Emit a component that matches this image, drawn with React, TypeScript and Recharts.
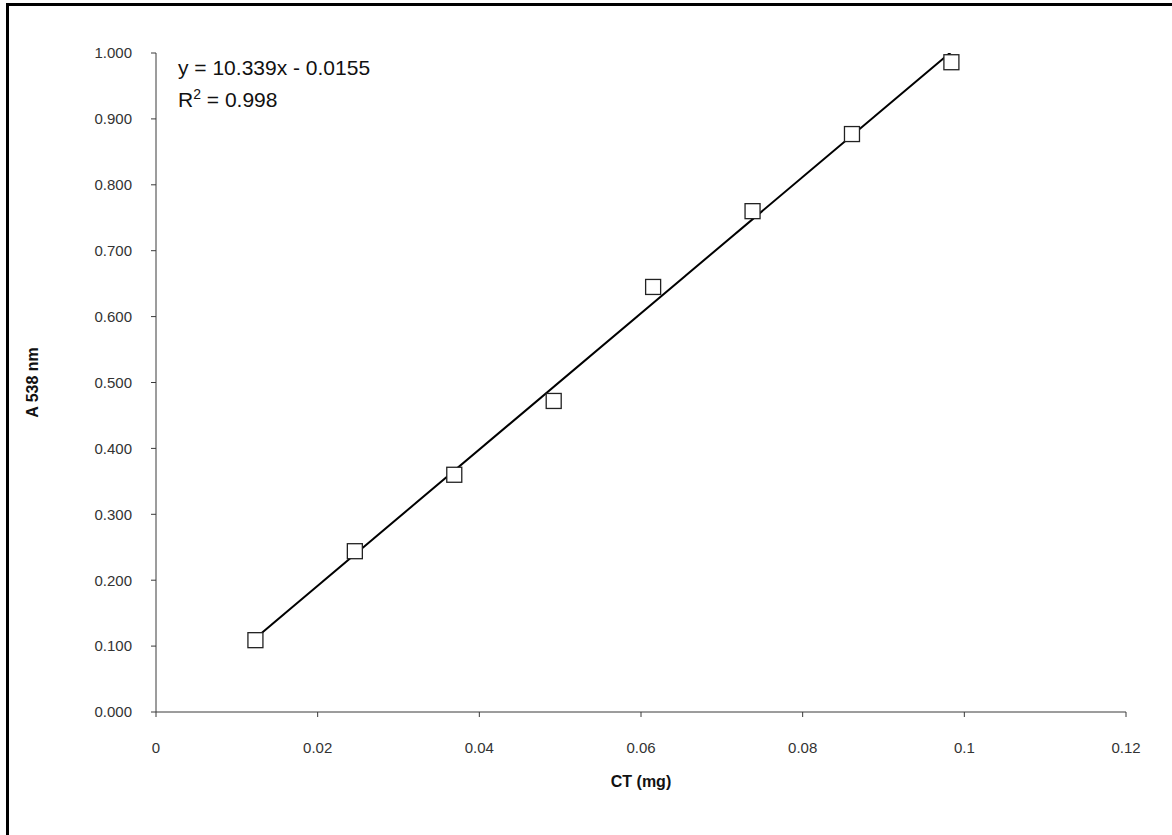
import {
  ComposedChart,
  Scatter,
  Line,
  XAxis,
  YAxis,
  Label,
} from "recharts";

// CT amount (mg) and absorbance at 538 nm
const ctMg = [0.0123, 0.0246, 0.0369, 0.0492, 0.0615, 0.0738, 0.0861, 0.0984];
const absorbance = [0.109, 0.244, 0.36, 0.472, 0.645, 0.76, 0.877, 0.986];

// linear fit end points: y = 10.339x - 0.0155
const fitX = [0.0123, 0.0984];
const fitY = [0.112, 1.002];

const xTicks = [0, 0.02, 0.04, 0.06, 0.08, 0.1, 0.12];
const yTicks = [0, 0.1, 0.2, 0.3, 0.4, 0.5, 0.6, 0.7, 0.8, 0.9, 1.0];

const points = ctMg.map((x, i) => ({ x, y: absorbance[i] }));
const fitLine = fitX.map((x, i) => ({ x, fit: fitY[i] }));

const font = "'Liberation Sans', Arial, sans-serif";
const axisColor = "#3a3a3a";

function SquareMarker(props: any) {
  const { cx, cy } = props;
  const s = 15;
  return (
    <rect
      x={cx - s / 2}
      y={cy - s / 2}
      width={s}
      height={s}
      fill="#fff"
      stroke="#222"
      strokeWidth={1.3}
    />
  );
}

export default function App() {
  return (
    <div
      style={{
        position: "fixed",
        left: 0,
        top: 0,
        width: 1172,
        height: 835,
        background: "#fff",
        fontFamily: font,
        overflow: "hidden",
      }}
    >
      <div
        style={{
          position: "absolute",
          left: 6,
          top: 3,
          width: 1200,
          height: 900,
          borderLeft: "3px solid #000",
          borderTop: "3px solid #000",
        }}
      />
      <ComposedChart
        width={1172}
        height={835}
        margin={{ top: 53, right: 46, bottom: 83, left: 96 }}
        style={{ position: "absolute", left: 0, top: 0 }}
      >
        <XAxis
          type="number"
          dataKey="x"
          domain={[0, 0.12]}
          ticks={xTicks}
          tickFormatter={(v) => String(v)}
          height={40}
          tickSize={5}
          tickMargin={25}
          stroke={axisColor}
          tick={{ fill: "#333", fontSize: 15, fontFamily: font }}
          allowDataOverflow
        >
          <Label
            value="CT (mg)"
            position="bottom"
            offset={24}
            style={{ fontWeight: "bold", fontSize: 16, fill: "#111", fontFamily: font }}
          />
        </XAxis>
        <YAxis
          type="number"
          domain={[0, 1]}
          ticks={yTicks}
          tickFormatter={(v) => v.toFixed(3)}
          width={60}
          tickSize={5}
          tickMargin={19}
          stroke={axisColor}
          tick={{ fill: "#333", fontSize: 15, fontFamily: font }}
          allowDataOverflow
        >
          <Label
            value="A 538 nm"
            angle={-90}
            position="left"
            offset={64}
            style={{ fontWeight: "bold", fontSize: 16, fill: "#111", fontFamily: font, textAnchor: "middle" }}
          />
        </YAxis>
        <Line
          data={fitLine}
          dataKey="fit"
          type="linear"
          stroke="#000"
          strokeWidth={2}
          dot={false}
          isAnimationActive={false}
        />
        <Scatter
          data={points}
          dataKey="y"
          shape={<SquareMarker />}
          isAnimationActive={false}
        />
      </ComposedChart>
      <div
        style={{
          position: "absolute",
          left: 178,
          top: 52,
          fontSize: 21,
          lineHeight: "32px",
          color: "#111",
        }}
      >
        <div>y = 10.339x - 0.0155</div>
        <div>
          R<sup style={{ fontSize: 14, verticalAlign: "8px", lineHeight: 0 }}>2</sup> = 0.998
        </div>
      </div>
    </div>
  );
}
